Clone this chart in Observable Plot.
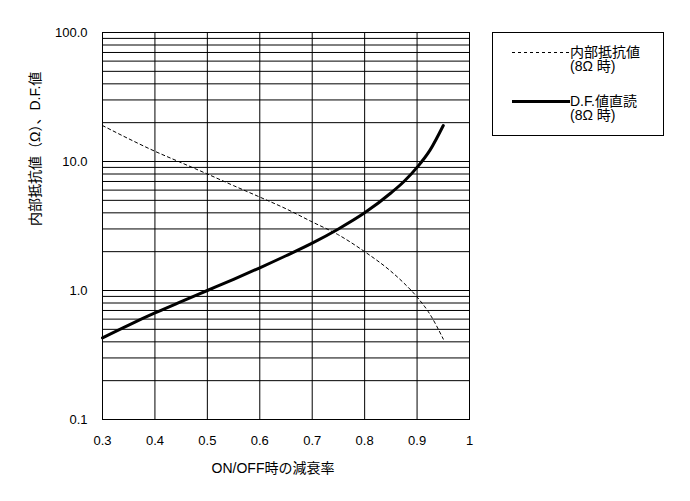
<!DOCTYPE html>
<html><head><meta charset="utf-8">
<script src="https://cdn.jsdelivr.net/npm/d3@7"></script>
<script src="https://cdn.jsdelivr.net/npm/@observablehq/plot@0.6"></script>
<style>
body{margin:0;background:#fff;font-family:Arial,"Liberation Sans","Noto Sans CJK JP",sans-serif;}
#wrap{position:relative;width:690px;height:501px;}
#legend{position:absolute;left:492px;top:32px;width:172px;height:104px;border:1px solid #000;box-sizing:border-box;font-size:14px;color:#000;}
.row{position:absolute;left:19px;}
.row svg{position:absolute;left:0;top:0;}
.txt{position:absolute;left:58px;line-height:14px;white-space:nowrap;}
</style></head>
<body><div id="wrap"><div id="legend">
<div class="row" style="top:12px"><svg width="58" height="14"><line x1="0" x2="57" y1="7.5" y2="7.5" stroke="#000" stroke-width="1" stroke-dasharray="3,3"/></svg><div class="txt" style="top:0">内部抵抗値</div><div class="txt" style="top:14px">(8Ω 時)</div></div>
<div class="row" style="top:61px"><svg width="58" height="14"><line x1="0" x2="58" y1="7.5" y2="7.5" stroke="#000" stroke-width="3"/></svg><div class="txt" style="top:0">D.F.値直読</div><div class="txt" style="top:14px">(8Ω 時)</div></div>
</div></div>
<script>
const ratio = [0.30,0.35,0.40,0.45,0.50,0.55,0.60,0.65,0.70,0.75,0.80,0.85,0.875,0.90,0.925,0.95];
const internalR = [19.0,15.0,12.0,9.8,8.0,6.5,5.3,4.3,3.4,2.7,2.0,1.41,1.14,0.89,0.65,0.42];
const dfValue = [0.43,0.54,0.67,0.82,1.0,1.22,1.5,1.86,2.33,3.0,4.0,5.7,7.0,9.0,12.3,19.0];
const xTicks = [0.3,0.4,0.5,0.6,0.7,0.8,0.9,1];
const yTicks = [0.1,1,10,100];
const yTickLabels = ["0.1","1.0","10.0","100.0"];
const xLabel = "ON/OFF時の減衰率";
const yLabel = "内部抵抗値（Ω）、D.F.値";

const yGrid = [];
for (const d of [0.1,1,10]) for (let k=1;k<=10;k++) yGrid.push(+(d*k).toPrecision(3));
const dashed = ratio.map((x,i)=>({x, y: internalR[i]}));
const solid = ratio.map((x,i)=>({x, y: dfValue[i]}));

const chart = Plot.plot({
  width: 690, height: 501,
  marginLeft: 102, marginRight: 221, marginTop: 32, marginBottom: 82,
  style: {fontFamily: 'Arial,"Liberation Sans","Noto Sans CJK JP",sans-serif', fontSize: "13px", color: "#000", background: "#fff"},
  x: {domain: [0.3,1], ticks: xTicks, tickFormat: d => String(d), tickSize: 0, tickPadding: 16, label: null},
  y: {type: "log", domain: [0.1,100], ticks: yTicks, tickFormat: d => yTickLabels[yTicks.findIndex(t => Math.abs(t-d) < 1e-9)], tickSize: 0, tickPadding: 15, label: null},
  marks: [
    Plot.ruleY(yGrid, {stroke: "#000", strokeWidth: 1, strokeOpacity: 1}),
    Plot.ruleX(xTicks, {stroke: "#000", strokeWidth: 1, strokeOpacity: 1}),
    Plot.frame({stroke: "#000", strokeWidth: 1}),
    Plot.line(dashed, {x: "x", y: "y", stroke: "#000", strokeWidth: 1, strokeDasharray: "3,3", curve: "monotone-x"}),
    Plot.line(solid, {x: "x", y: "y", stroke: "#000", strokeWidth: 3, curve: "monotone-x"}),
    Plot.text([xLabel], {frameAnchor: "bottom", dy: 53, dx: -13, fontSize: 14}),
    Plot.text([yLabel], {frameAnchor: "left", dx: -67, rotate: -90, fontSize: 14})
  ]
});
document.getElementById("wrap").prepend(chart);
</script></body></html>
